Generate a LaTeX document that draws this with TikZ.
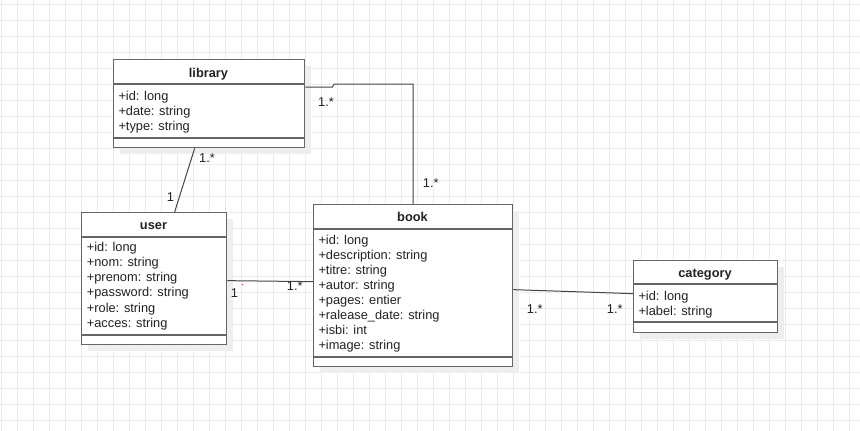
\documentclass[tikz,border=0pt]{standalone}
\usepackage{fontspec}
\setmainfont{Liberation Sans}
\usetikzlibrary{calc,shadows}
\definecolor{gridc}{HTML}{ECECEC}
\definecolor{boxc}{HTML}{666666}
\definecolor{linec}{HTML}{444444}
\definecolor{txtc}{HTML}{222222}
\definecolor{shadc}{HTML}{EEEEEE}
\begin{document}
\begin{tikzpicture}[x=1pt,y=-1pt,
  classbox/.style={draw=boxc, line width=1.3pt, fill=white, rectangle, inner sep=0pt, anchor=north west,
    drop shadow={shadow xshift=6pt, shadow yshift=-6pt, fill=shadc, opacity=1}},
  sepline/.style={draw=boxc, line width=1.3pt},
  conn/.style={draw=linec, line width=1pt},
  attr/.style={anchor=base west, inner sep=0pt, text=txtc, font=\fontsize{12.8}{15}\selectfont},
  ttl/.style={anchor=base, inner sep=0pt, text=txtc, font=\fontsize{12.8}{15}\selectfont\bfseries},
  mult/.style={anchor=base west, inner sep=0pt, text=txtc, font=\fontsize{12.8}{15}\selectfont}]
\useasboundingbox (0,0) rectangle (860,431);
\fill[white] (0,0) rectangle (860,431);
% grid
\foreach \i in {0,...,53} {\draw[gridc, line width=0.8pt] (1+16*\i,0) -- (1+16*\i,431);}
\foreach \j in {0,...,26} {\draw[gridc, line width=0.8pt] (0,4+16*\j) -- (860,4+16*\j);}

% connectors (drawn under boxes)
% boxes
\node[classbox, minimum width=191pt, minimum height=88pt] (library) at (113,59) {};
\node[classbox, minimum width=145pt, minimum height=132pt] (user) at (81,212) {};
\node[classbox, minimum width=199pt, minimum height=162pt] (book) at (313,204) {};
\node[classbox, minimum width=144pt, minimum height=72pt] (category) at (633,260) {};

% library
\draw[sepline] (library.west |- 0,84) -- (library.east |- 0,84);
\draw[sepline] (library.west |- 0,138) -- (library.east |- 0,138);
\node[ttl] (libt) at (208.5,77.7) {library};
\node[attr] (liba1) at (118.3,100) {+id: long};
\node[attr] (liba2) at (118.3,115) {+date: string};
\node[attr] (liba3) at (118.3,130) {+type: string};

% user
\draw[sepline] (user.west |- 0,237) -- (user.east |- 0,237);
\draw[sepline] (user.west |- 0,335) -- (user.east |- 0,335);
\node[ttl] (usert) at (153.5,229) {user};
\node[attr] (usera1) at (86.7,251.6) {+id: long};
\node[attr] (usera2) at (86.7,266.7) {+nom: string};
\node[attr] (usera3) at (86.7,281.8) {+prenom: string};
\node[attr] (usera4) at (86.7,296.9) {+password: string};
\node[attr] (usera5) at (86.7,312.0) {+role: string};
\node[attr] (usera6) at (86.7,327.1) {+acces: string};

% book
\draw[sepline] (book.west |- 0,229) -- (book.east |- 0,229);
\draw[sepline] (book.west |- 0,357) -- (book.east |- 0,357);
\node[ttl] (bookt) at (412.5,221) {book};
\node[attr] (booka1) at (318.3,244.5) {+id: long};
\node[attr] (booka2) at (318.3,259.5) {+description: string};
\node[attr] (booka3) at (318.3,274.5) {+titre: string};
\node[attr] (booka4) at (318.3,289.5) {+autor: string};
\node[attr] (booka5) at (318.3,304.5) {+pages: entier};
\node[attr] (booka6) at (318.3,319.5) {+ralease\_date: string};
\node[attr] (booka7) at (318.3,334.5) {+isbi: int};
\node[attr] (booka8) at (318.3,349.5) {+image: string};

% category
\draw[sepline] (category.west |- 0,284) -- (category.east |- 0,284);
\draw[sepline] (category.west |- 0,322) -- (category.east |- 0,322);
\node[ttl] (catt) at (705,277.7) {category};
\node[attr] (cata1) at (638.3,300) {+id: long};
\node[attr] (cata2) at (638.3,315) {+label: string};

% connectors
\draw[conn] ($(library.north east)+(0,28)$) -- ++(27,0) -- ++(2,-3) -- (book.north |- 0,84) -- (book.north);
\draw[conn] ($(library.south)+(-14.5,0)$) -- ($(user.north)+(20.5,0)$);
\draw[conn] ($(user.east)+(0,2)$) -- ($(book.west)+(0,-4)$);
\draw[conn] ($(book.east)+(0,4)$) -- ($(category.west)+(0,-3)$);

% multiplicities
\node[mult] (m1) at (318,106.7) {1.*};
\node[mult] (m2) at (422.7,187.3) {1.*};
\node[mult] (m3) at (199,162) {1.*};
\node[mult] (m4) at (166.7,201.7) {1};
\node[mult] (m5) at (230.7,297.5) {1};
\node[mult] (m6) at (286.7,290.5) {1.*};
\node[mult] (m7) at (526.7,313.3) {1.*};
\node[mult] (m8) at (606.7,313.3) {1.*};
\fill[red] (242.7,284.7) circle (0.7);
\end{tikzpicture}
\end{document}
